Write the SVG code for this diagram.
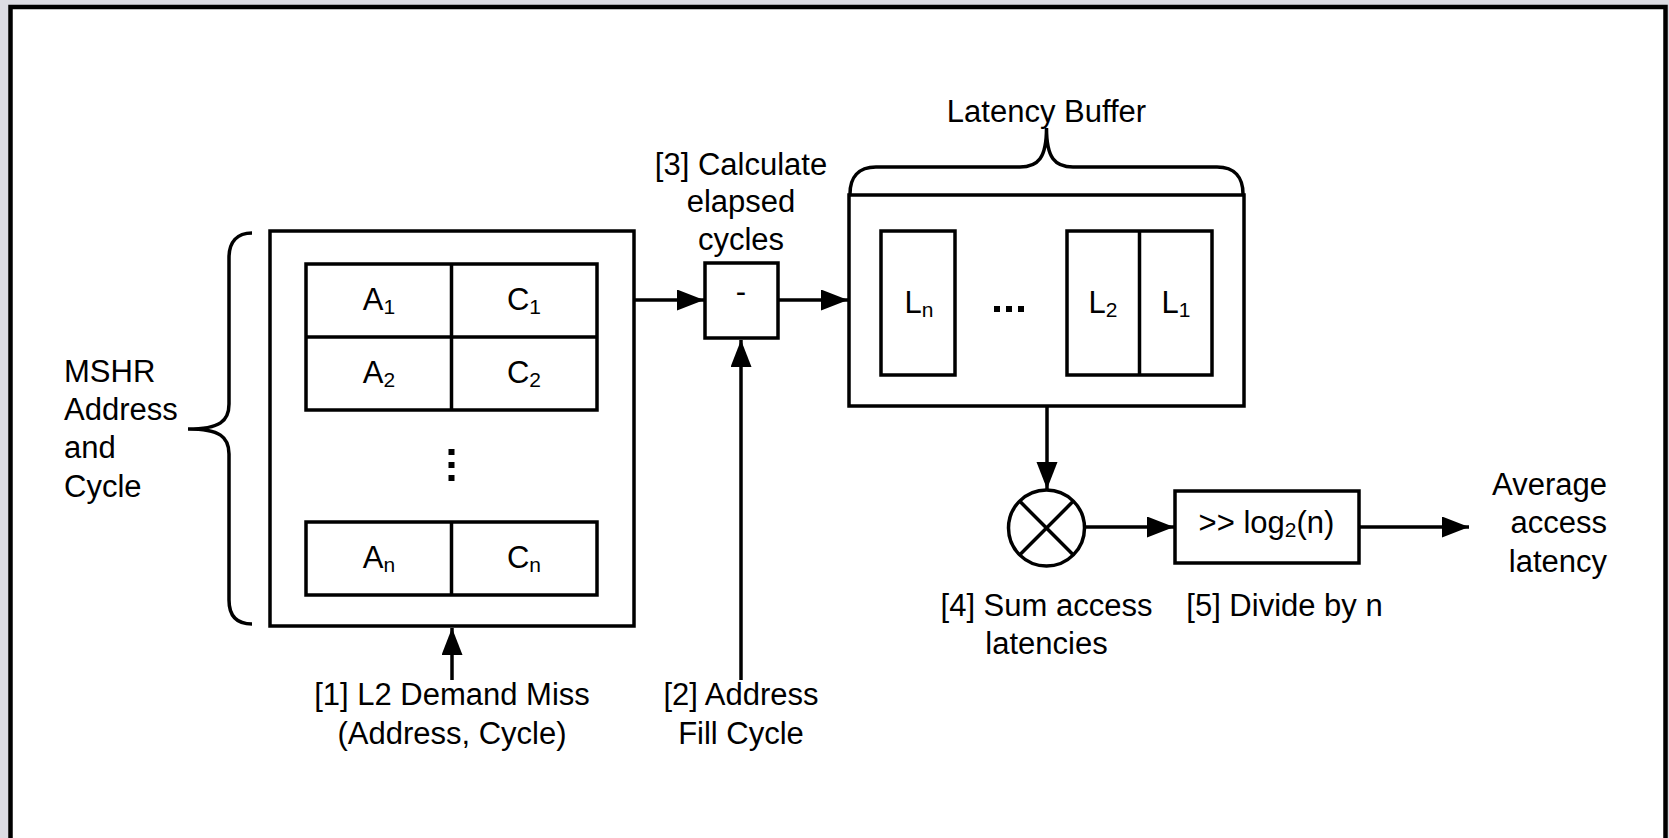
<svg xmlns="http://www.w3.org/2000/svg" width="1669" height="838" viewBox="0 0 1669 838">
<style>
text{font-family:"Liberation Sans",Arial,sans-serif;font-size:31px;fill:#000}
.m{text-anchor:middle}
.e{text-anchor:end}
.b{fill:#fff;stroke:#000;stroke-width:3.5}
.l{fill:none;stroke:#000;stroke-width:3.5}
.c{fill:none;stroke:#000;stroke-width:3.5}
.s{font-size:21px}
</style>
<defs>
<marker id="ah" markerUnits="userSpaceOnUse" markerWidth="28" markerHeight="22" refX="27" refY="10.5" orient="auto">
<path d="M0,0 L27,10.5 L0,21 Z" fill="#000"/>
</marker>
</defs>
<rect x="0" y="0" width="1669" height="838" fill="#dcdce3"/>
<rect x="10.5" y="7" width="1655" height="860" fill="#fff" stroke="#000" stroke-width="4.5"/>

<g id="mshr-label">
<text x="64" y="382">MSHR</text>
<text x="64" y="420">Address</text>
<text x="64" y="458">and</text>
<text x="64" y="497">Cycle</text>
<path class="l" d="M252,233 C237,233 229,242 229,258 L229,404 C229,421 220,429 188,429 C220,429 229,437 229,454 L229,600 C229,616 237,624 252,624"/>
</g>

<g id="mshr">
<rect class="b" x="270" y="231" width="364" height="395"/>
<rect class="b" x="306" y="264" width="291" height="146"/>
<line class="l" x1="306" y1="337" x2="597" y2="337"/>
<line class="l" x1="451.5" y1="264" x2="451.5" y2="410"/>
<text class="m" x="379" y="310">A<tspan class="s" dy="4">1</tspan></text>
<text class="m" x="524" y="310">C<tspan class="s" dy="4">1</tspan></text>
<text class="m" x="379" y="383">A<tspan class="s" dy="4">2</tspan></text>
<text class="m" x="524" y="383">C<tspan class="s" dy="4">2</tspan></text>
<rect x="448.5" y="449" width="6" height="6" fill="#000"/>
<rect x="448.5" y="462" width="6" height="6" fill="#000"/>
<rect x="448.5" y="475" width="6" height="6" fill="#000"/>
<rect class="b" x="306" y="522" width="291" height="73"/>
<line class="l" x1="451.5" y1="522" x2="451.5" y2="595"/>
<text class="m" x="379" y="568">A<tspan class="s" dy="4">n</tspan></text>
<text class="m" x="524" y="568">C<tspan class="s" dy="4">n</tspan></text>
</g>

<g id="l2-miss">
<text class="m" x="452" y="705">[1] L2 Demand Miss</text>
<text class="m" x="452" y="744">(Address, Cycle)</text>
</g>

<g id="fill-cycle">
<text class="m" x="741" y="705">[2] Address</text>
<text class="m" x="741" y="744">Fill Cycle</text>
</g>

<g id="subtract">
<rect class="b" x="705" y="263" width="73" height="75"/>
<text class="m" x="741" y="302">-</text>
<text class="m" x="741" y="175">[3] Calculate</text>
<text class="m" x="741" y="212">elapsed</text>
<text class="m" x="741" y="250">cycles</text>
</g>

<g id="latency-buffer">
<text class="m" x="1046.5" y="122">Latency Buffer</text>
<path class="l" d="M850,194 C850,178 858,167 876,167 L1020,167 C1038,167 1046.5,158 1046.5,128 C1046.5,158 1055,167 1073,167 L1217,167 C1235,167 1243,178 1243,194"/>
<rect class="b" x="849" y="195" width="395" height="211"/>
<rect class="b" x="881" y="231" width="74" height="144"/>
<text class="m" x="919" y="313">L<tspan class="s" dy="4">n</tspan></text>
<rect x="994" y="306" width="6" height="6" fill="#000"/>
<rect x="1006" y="306" width="6" height="6" fill="#000"/>
<rect x="1018" y="306" width="6" height="6" fill="#000"/>
<rect class="b" x="1067" y="231" width="145" height="144"/>
<line class="l" x1="1139.5" y1="231" x2="1139.5" y2="375"/>
<text class="m" x="1103" y="313">L<tspan class="s" dy="4">2</tspan></text>
<text class="m" x="1176" y="313">L<tspan class="s" dy="4">1</tspan></text>
</g>

<g id="sum">
<circle class="b" cx="1046.5" cy="528" r="38"/>
<line class="l" x1="1019.6" y1="501.1" x2="1073.4" y2="554.9"/>
<line class="l" x1="1073.4" y1="501.1" x2="1019.6" y2="554.9"/>
<text class="m" x="1046.5" y="616">[4] Sum access</text>
<text class="m" x="1046.5" y="654">latencies</text>
</g>

<g id="divide">
<rect class="b" x="1175" y="491" width="184" height="72"/>
<text class="m" x="1266.5" y="533">&gt;&gt; log<tspan class="s" dy="4">2</tspan><tspan dy="-4">(n)</tspan></text>
<text class="m" x="1284.5" y="616">[5] Divide by n</text>
</g>

<g id="output">
<text class="e" x="1607" y="495">Average</text>
<text class="e" x="1607" y="533">access</text>
<text class="e" x="1607" y="572">latency</text>
</g>

<g id="connectors">
<line class="c" x1="452" y1="680" x2="452" y2="628" marker-end="url(#ah)"/>
<line class="c" x1="634" y1="300" x2="704" y2="300" marker-end="url(#ah)"/>
<line class="c" x1="741" y1="680" x2="741" y2="340" marker-end="url(#ah)"/>
<line class="c" x1="778" y1="300" x2="848" y2="300" marker-end="url(#ah)"/>
<line class="c" x1="1047" y1="406" x2="1047" y2="489" marker-end="url(#ah)"/>
<line class="c" x1="1085" y1="527" x2="1174" y2="527" marker-end="url(#ah)"/>
<line class="c" x1="1359" y1="527" x2="1469" y2="527" marker-end="url(#ah)"/>
</g>
</svg>
